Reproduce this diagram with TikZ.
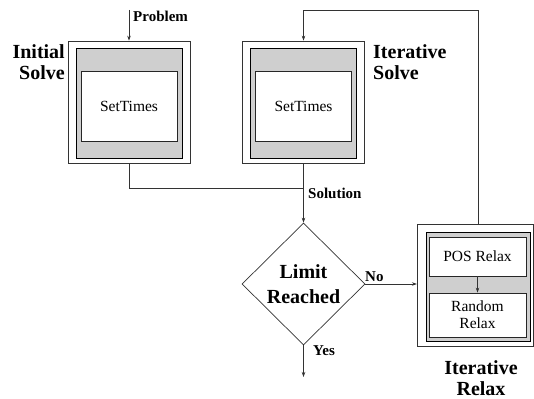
\documentclass[tikz,border=0pt]{standalone}
\usepackage{fontspec}
\setmainfont{Liberation Serif}
\usetikzlibrary{shapes.geometric,arrows.meta}
\begin{document}
\begin{tikzpicture}[x=1pt,y=-1pt,
  outerbox/.style={draw=black!80, line width=0.7pt, rectangle, inner sep=0pt},
  graybox/.style={draw=black, line width=0.9pt, fill=black!19, rectangle, inner sep=0pt},
  whitebox/.style={draw=black!85, line width=0.8pt, fill=white, rectangle, inner sep=0pt, align=center, font=\fontsize{15.5}{17}\selectfont},
  biglabel/.style={font=\fontsize{20}{21}\selectfont\bfseries, inner sep=0pt},
  smalllabel/.style={font=\fontsize{15}{17}\selectfont\bfseries, inner sep=0pt},
  conn/.style={draw=black!80, line width=0.6pt},
  arr/.style={conn, -{Stealth[length=5pt,width=3.5pt]}}
]
\path[use as bounding box] (0,0) rectangle (534,398);

% Initial Solve
\node[outerbox, minimum width=122pt, minimum height=122pt] (iso) at (129,102) {};
\node[graybox, minimum width=106pt, minimum height=110pt] (isg) at (129,103) {};
\node[whitebox, minimum width=96pt, minimum height=70pt] (isw) at (129,106) {SetTimes};

% Iterative Solve
\node[outerbox, minimum width=122pt, minimum height=122pt] (ito) at (303.5,102) {};
\node[graybox, minimum width=106pt, minimum height=110pt] (itg) at (303.5,103) {};
\node[whitebox, minimum width=96pt, minimum height=70pt] (itw) at (303.5,106) {SetTimes};

% Iterative Relax
\node[outerbox, minimum width=116pt, minimum height=122pt] (iro) at (475.25,285) {};
\node[graybox, minimum width=104pt, minimum height=109pt] (irg) at (478,286.5) {};
\node[whitebox, minimum width=97pt, minimum height=39pt] (pos) at (477.5,256.5) {POS Relax};
\node[whitebox, minimum width=97pt, minimum height=44pt] (rnd) at (477.5,315) {Random\\Relax};

% Decision
\node[diamond, aspect=1, draw=black!80, line width=0.7pt, minimum width=123pt, minimum height=122pt, inner sep=0pt, align=center, font=\fontsize{20}{25}\selectfont\bfseries] (lim) at (303.5,284) {Limit\\Reached};

% helper coordinates
\coordinate (ptop) at (129,10);
\coordinate (jy) at (0,188);
\coordinate (fbtop) at (478,10);
\coordinate (yend) at (303.5,377);

% connectors
\draw[arr] (ptop) -- (iso.north);
\draw[conn] (iso.south) -- (iso.south |- jy) -- (jy -| ito.south);
\draw[arr] (ito.south) -- (lim.north);
\draw[arr] (lim.south) -- (yend);
\draw[arr] (lim.east) -- (lim.east -| iro.west);
\draw[arr] (iro.north -| fbtop) -- (fbtop) -| (ito.north);
\draw[arr] (pos.south) -- (rnd.north);

% labels
\node[smalllabel, anchor=base west] (lprob) at (133,22) {Problem};
\node[biglabel, align=right, anchor=north east] (lis) at (65,44.5) {Initial\\Solve};
\node[biglabel, align=left, anchor=north west] (lits) at (373,44.5) {Iterative\\Solve};
\node[biglabel, align=center, anchor=north] (lir) at (481,360) {Iterative\\Relax};
\node[smalllabel, anchor=base west] (lsol) at (308,198) {Solution};
\node[smalllabel, anchor=base west] (lno) at (365,281) {No};
\node[smalllabel, anchor=base west] (lyes) at (313,355) {Yes};
\end{tikzpicture}
\end{document}
